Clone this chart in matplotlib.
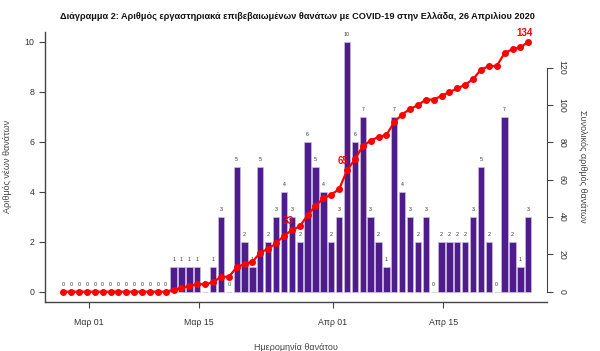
import numpy as np
import pandas as pd
import matplotlib
matplotlib.use('Agg')
import matplotlib.pyplot as plt

# daily lab-confirmed deaths, 27 Feb - 26 Apr 2020
daily = [0, 0, 0, 0, 0, 0, 0, 0, 0, 0, 0, 0, 0, 0,
         1, 1, 1, 1, 0, 1, 3, 0, 5, 2, 1, 5, 2, 3, 4, 3,
         2, 6, 5, 4, 2, 3, 10, 6, 7, 3, 2, 1, 7, 4, 3, 2,
         3, 0, 2, 2, 2, 2, 3, 5, 2, 0, 7, 2, 1, 3]
start_date = '2020-02-27'
tick_dates = ['2020-03-01', '2020-03-15', '2020-04-01', '2020-04-15']
tick_labels = ['Μαρ 01', 'Μαρ 15', 'Απρ 01', 'Απρ 15']
labelled_totals = [33, 65, 134]

title = ('Διάγραμμα 2: Αριθμός εργαστηριακά επιβεβαιωμένων θανάτων με COVID-19 '
         'στην Ελλάδα, 26 Απριλίου 2020')

plt.rcParams['font.family'] = ['Liberation Sans', 'DejaVu Sans']

dates = pd.date_range(start_date, periods=len(daily), freq='D')
x = np.arange(len(daily))
cum = np.cumsum(daily)
ticks_x = [(pd.Timestamp(d) - dates[0]).days + 0.2 for d in tick_dates]

bar_col = '#4f1c8c'
red = '#ff0000'
txt = '#333333'

fig = plt.figure(figsize=(6, 3.51), dpi=100)
ax = fig.add_axes([0.075, 0.1405, 0.8367, 0.769])

ax.bar(x, daily, width=0.8, color=bar_col, edgecolor='#cbbde3', linewidth=0.5, zorder=2)
for xi, v in zip(x, daily):
    ax.text(xi, v + 0.28, str(v), ha='center', va='center', fontsize=3.8, color=txt, zorder=3)

ax.set_xlim(-2.32, 61.38)
ax.set_ylim(-0.4, 10.4)
ax.set_yticks(range(0, 11, 2))
ax.set_xticks(ticks_x)
ax.set_xticklabels(tick_labels)
ax.spines['top'].set_visible(False)
ax.spines['right'].set_visible(False)
for s in ['left', 'bottom']:
    ax.spines[s].set_color('#444444')
    ax.spines[s].set_linewidth(1.0)
ax.tick_params(axis='both', labelsize=6.3, colors='#444444', length=4, width=0.8, labelcolor=txt)
ax.tick_params(axis='x', pad=8)
ax.set_xlabel('Ημερομηνία θανάτου', fontsize=6.5, color='#444444', labelpad=11)
ax.set_ylabel('Αριθμός νέων θανάτων', fontsize=6.5, color='#444444', labelpad=9)

ax2 = ax.twinx()
ax2.plot(x, cum, color=red, lw=1.6, marker='o', markersize=4, zorder=4)
for v in labelled_totals:
    i = int(np.argmax(cum >= v))
    ax2.annotate(str(v), (x[i], cum[i]), xytext=(-2.5, 6.5), textcoords='offset points',
                 ha='center', va='center', fontsize=7, color=red, fontweight='bold')
ax2.set_ylim(-5.36, 139.36)
ax2.set_yticks(range(0, 121, 20))
for s in ['top', 'left', 'bottom']:
    ax2.spines[s].set_visible(False)
ax2.spines['right'].set_bounds(0, 120)
ax2.spines['right'].set_color('#444444')
ax2.tick_params(axis='y', labelsize=6.3, colors='#444444', length=4, width=0.8, labelcolor=txt)
for lab in ax2.get_yticklabels():
    lab.set_rotation(-90)
    lab.set_va('center')
ax2.set_ylabel('Συνολικός αριθμός θανάτων', fontsize=6.5, color='#444444',
               rotation=-90, labelpad=15)

fig.text(0.496, 0.952, title, ha='center', va='center', fontsize=6.6, fontweight='bold', color='#111111')

fig.savefig('out.png', dpi=100)
